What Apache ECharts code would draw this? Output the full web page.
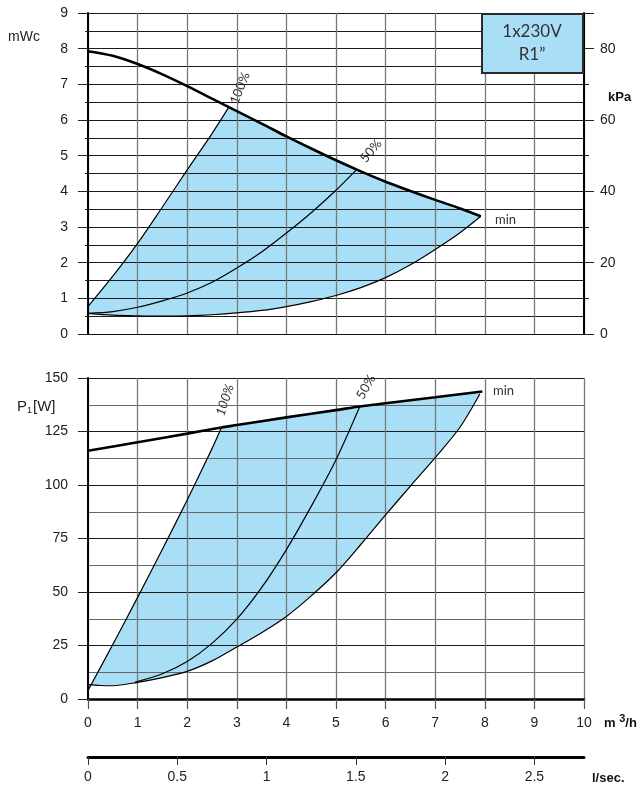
<!DOCTYPE html>
<html lang="en">
<head>
  <meta charset="UTF-8">
  <title>pump curve</title>
  <script src="https://cdn.jsdelivr.net/npm/echarts@6/dist/echarts.min.js"></script>
  <style>
    html, body { margin: 0; padding: 0; background: #fff; }
    #main { width: 640px; height: 793px; }
  </style>
</head>
<body>
<div id="main"></div>
<script type="text/javascript">
  // head curves (Q in m3/h, H in mWc)
  var qHmax = [0, 0.5, 1, 1.5, 2, 2.5, 2.84, 3.5, 4, 4.5, 5, 5.5, 6, 6.5, 7, 7.5, 7.92];
  var hMax  = [7.93, 7.8, 7.57, 7.28, 6.95, 6.6, 6.36, 5.9, 5.54, 5.2, 4.87, 4.56, 4.27, 4.01, 3.76, 3.52, 3.3];
  var qH100 = [0, 0.5, 1, 1.5, 2, 2.5, 2.84];
  var h100  = [0.77, 1.62, 2.54, 3.56, 4.6, 5.62, 6.36];
  var qH50  = [0, 0.5, 1, 1.5, 2, 2.5, 3, 3.5, 4, 4.5, 5, 5.41];
  var h50   = [0.58, 0.63, 0.75, 0.93, 1.15, 1.45, 1.85, 2.3, 2.83, 3.4, 4.03, 4.6];
  var qHmin = [0, 0.5, 1, 1.5, 2, 2.5, 3, 3.5, 4, 4.5, 5, 5.5, 6, 6.5, 7, 7.5, 7.92];
  var hMin  = [0.58, 0.53, 0.51, 0.5, 0.51, 0.54, 0.59, 0.66, 0.77, 0.91, 1.08, 1.3, 1.58, 1.94, 2.37, 2.84, 3.3];

  // power curves (Q in m3/h, P1 in W)
  var qPmax = [0, 1, 2, 2.69, 3, 4, 5, 5.48, 6, 7, 7.95];
  var pMax  = [116, 120, 124, 126.9, 128, 131.6, 135, 136.7, 138.2, 141, 143.7];
  var qP100 = [0, 0.5, 1, 1.5, 2, 2.5, 2.69];
  var p100  = [4, 25.5, 47.5, 70, 93, 117, 126.9];
  var qP50  = [0.95, 1.5, 2, 2.5, 3, 3.5, 4, 4.5, 5, 5.48];
  var p50   = [7.9, 11.8, 17.5, 26, 37.3, 52, 69.8, 90, 111.8, 136.7];
  var qPmin = [0, 0.25, 0.5, 1, 1.5, 2, 2.5, 3, 3.5, 4, 4.5, 5, 5.5, 6, 6.5, 7, 7.5, 7.9];
  var pMin  = [6.7, 6.3, 6.2, 7.8, 10, 12.9, 17.8, 24.3, 31, 38.6, 48.2, 59, 72.2, 86, 99.5, 112.8, 127, 142.5];

  var qTicks = [0, 1, 2, 3, 4, 5, 6, 7, 8, 9, 10];
  var lsTicks = [0, 0.5, 1, 1.5, 2, 2.5];

  var FILL = '#a8def6';
  var LBL = 'Liberation Sans, Arial, sans-serif';

  function pairs(xs, ys) {
    var out = [];
    for (let i = 0; i < xs.length; i++) out.push([xs[i], ys[i]]);
    return out;
  }

  // outline of the shaded working range: 100% curve, max curve, then min curve back
  function outline(qa, ya, qm, ym, qb, yb) {
    var pts = pairs(qa, ya);
    var qStart = qa[qa.length - 1];
    for (let i = 0; i < qm.length; i++) {
      if (qm[i] > qStart) pts.push([qm[i], ym[i]]);
    }
    for (let i = qb.length - 1; i >= 0; i--) pts.push([qb[i], yb[i]]);
    return pts;
  }

  var areaH = outline(qH100, h100, qHmax, hMax, qHmin, hMin);
  var areaP = outline(qP100, p100, qPmax, pMax, qPmin, pMin);

  function polySeries(pts, xi, yi) {
    return {
      type: 'custom',
      xAxisIndex: xi,
      yAxisIndex: yi,
      z: -1,
      silent: true,
      data: [[0, 0]],
      renderItem: function (params, api) {
        var shape = [];
        for (let i = 0; i < pts.length; i++) shape.push(api.coord(pts[i]));
        return { type: 'polygon', shape: { points: shape }, style: { fill: FILL } };
      }
    };
  }

  function lineSeries(xs, ys, xi, yi, w) {
    return {
      type: 'line',
      xAxisIndex: xi,
      yAxisIndex: yi,
      data: pairs(xs, ys),
      smooth: 0.3,
      showSymbol: false,
      silent: true,
      lineStyle: { color: '#000', width: w }
    };
  }

  var myChart = echarts.init(document.getElementById('main'));

  var option = {
    animation: false,
    grid: [
      { left: 88, top: 13, width: 496, height: 321 },
      { left: 88, top: 378, width: 496, height: 321 },
      { left: 88, top: 756, width: 496, height: 1 }
    ],
    xAxis: [
      {
        gridIndex: 0, type: 'value', min: 0, max: 10, interval: 1,
        axisLine: { show: true, onZero: false, lineStyle: { color: '#111', width: 1.2 } },
        axisTick: { show: false }, axisLabel: { show: false },
        splitLine: { show: true, lineStyle: { color: '#777', width: 1.3 } }
      },
      {
        gridIndex: 1, type: 'value', min: 0, max: 10, interval: 1,
        axisLine: { show: true, onZero: false, lineStyle: { color: '#000', width: 2.5 } },
        axisTick: { show: true, length: 10, lineStyle: { color: '#555', width: 1.2 } },
        axisLabel: { margin: 17, fontSize: 14, color: '#222', fontFamily: LBL,
          formatter: function (v) { return qTicks.indexOf(v) >= 0 ? v : ''; } },
        splitLine: { show: true, lineStyle: { color: '#777', width: 1.3 } }
      },
      {
        gridIndex: 2, type: 'value', min: 0, max: 10 / 3.6, interval: 0.5,
        axisLine: { show: true, onZero: false, lineStyle: { color: '#000', width: 3 } },
        axisTick: { show: true, length: 8, lineStyle: { color: '#333', width: 1 } },
        axisLabel: { margin: 13, fontSize: 14, color: '#222', fontFamily: LBL, showMaxLabel: false,
          formatter: function (v) { return lsTicks.indexOf(v) >= 0 ? v : ''; } },
        splitLine: { show: false }
      }
    ],
    yAxis: [
      {
        gridIndex: 0, type: 'value', min: 0, max: 9, interval: 1,
        axisLine: { show: true, lineStyle: { color: '#000', width: 2 } },
        axisTick: { show: true, length: 10, lineStyle: { color: '#222' } },
        minorTick: { show: true, splitNumber: 2, length: 3, lineStyle: { color: '#222' } },
        axisLabel: { margin: 20, fontSize: 14, color: '#222', fontFamily: LBL },
        splitLine: { show: true, lineStyle: { color: '#1a1a1a', width: 1.2 } },
        minorSplitLine: { show: true, lineStyle: { color: '#1a1a1a', width: 1.2 } }
      },
      {
        gridIndex: 0, type: 'value', position: 'right', min: 0, max: 90, interval: 20,
        axisLine: { show: true, lineStyle: { color: '#000', width: 2 } },
        axisTick: { show: true, length: 10, lineStyle: { color: '#222' } },
        minorTick: { show: true, splitNumber: 2, length: 5, lineStyle: { color: '#222' } },
        axisLabel: { margin: 16, fontSize: 14, color: '#222', fontFamily: LBL, showMaxLabel: false },
        splitLine: { show: false }
      },
      {
        gridIndex: 1, type: 'value', min: 0, max: 150, interval: 25,
        axisLine: { show: true, lineStyle: { color: '#000', width: 2 } },
        axisTick: { show: true, length: 10, lineStyle: { color: '#222' } },
        axisLabel: { margin: 20, fontSize: 14, color: '#222', fontFamily: LBL },
        splitLine: { show: true, lineStyle: { color: '#1a1a1a', width: 1.2 } },
        minorSplitLine: { show: true, lineStyle: { color: '#666', width: 1.2 } },
        minorTick: { show: false, splitNumber: 2 }
      },
      {
        gridIndex: 2, type: 'value', min: 0, max: 1, show: false
      }
    ],
    series: [
      polySeries(areaH, 0, 0),
      polySeries(areaP, 1, 2),
      lineSeries(qH100, h100, 0, 0, 1.2),
      lineSeries(qH50, h50, 0, 0, 1.2),
      lineSeries(qHmin, hMin, 0, 0, 1.2),
      lineSeries(qHmax, hMax, 0, 0, 2.6),
      lineSeries(qP100, p100, 1, 2, 1.2),
      lineSeries(qP50, p50, 1, 2, 1.2),
      lineSeries(qPmin, pMin, 1, 2, 1.2),
      lineSeries(qPmax, pMax, 1, 2, 2.6)
    ],
    graphic: [
      { type: 'rect', shape: { x: 482, y: 14, width: 101, height: 59 },
        style: { fill: FILL, stroke: '#2a2a2a', lineWidth: 2 }, z: 50 },
      { type: 'text', x: 532, y: 32, z: 51,
        style: { text: '1x230V', font: '17px Lato, sans-serif', fill: '#333', align: 'center', verticalAlign: 'middle' } },
      { type: 'text', x: 532, y: 55, z: 51,
        style: { text: 'R1\u201D', font: '17px Lato, sans-serif', fill: '#333', align: 'center', verticalAlign: 'middle' } },

      { type: 'text', x: 8, y: 37, style: { text: 'mWc', font: '14px ' + LBL, fill: '#222', verticalAlign: 'middle' } },
      { type: 'text', x: 608, y: 97, style: { text: 'kPa', font: 'bold 13px ' + LBL, fill: '#111', verticalAlign: 'middle' } },
      { type: 'text', x: 17, y: 407,
        style: { text: '{a|P}{b|1}{a|[W]}', verticalAlign: 'middle', fill: '#222',
          rich: { a: { fontSize: 15, fontFamily: LBL, fill: '#222' },
                  b: { fontSize: 9, fontFamily: LBL, fill: '#222', verticalAlign: 'bottom', padding: [8, 1, 0, 0] } } } },
      { type: 'text', x: 604, y: 723,
        style: { text: '{a|m }{b|3}{a|/h}', verticalAlign: 'middle', fill: '#111',
          rich: { a: { fontSize: 13, fontWeight: 'bold', fontFamily: LBL, fill: '#111' },
                  b: { fontSize: 11, fontWeight: 'bold', fontFamily: LBL, fill: '#111', padding: [0, 0, 9, 0] } } } },
      { type: 'text', x: 592, y: 778, style: { text: 'l/sec.', font: 'bold 13px ' + LBL, fill: '#111', verticalAlign: 'middle' } },

      { type: 'text', x: 240, y: 88, rotation: 68 * Math.PI / 180,
        style: { text: '100%', font: '13px Lato, sans-serif', fill: '#333', align: 'center', verticalAlign: 'middle' } },
      { type: 'text', x: 371, y: 151, rotation: 50 * Math.PI / 180,
        style: { text: '50%', font: '13px Lato, sans-serif', fill: '#333', align: 'center', verticalAlign: 'middle' } },
      { type: 'text', x: 495, y: 220,
        style: { text: 'min', font: '13px Lato, sans-serif', fill: '#333', verticalAlign: 'middle' } },
      { type: 'text', x: 225, y: 400, rotation: 72 * Math.PI / 180,
        style: { text: '100%', font: 'italic 13px Lato, sans-serif', fill: '#333', align: 'center', verticalAlign: 'middle' } },
      { type: 'text', x: 366, y: 387, rotation: 60 * Math.PI / 180,
        style: { text: '50%', font: '13px Lato, sans-serif', fill: '#333', align: 'center', verticalAlign: 'middle' } },
      { type: 'text', x: 493, y: 391,
        style: { text: 'min', font: '13px Lato, sans-serif', fill: '#333', verticalAlign: 'middle' } }
    ]
  };
  myChart.setOption(option);
</script>
</body>
</html>
